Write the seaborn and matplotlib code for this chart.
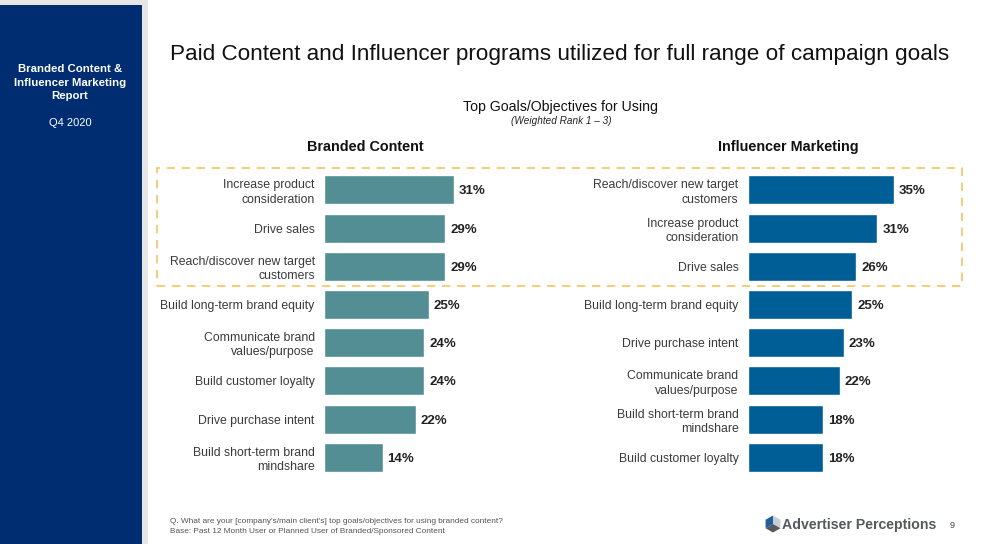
import matplotlib
matplotlib.use("Agg")
import matplotlib.pyplot as plt
from matplotlib.patches import Rectangle, Polygon
import pandas as pd
import seaborn as sns

branded_goals = ["Increase product\nconsideration", "Drive sales", "Reach/discover new target\ncustomers",
                 "Build long-term brand equity", "Communicate brand\nvalues/purpose", "Build customer loyalty",
                 "Drive purchase intent", "Build short-term brand\nmindshare"]
branded_values = [31, 29, 29, 25, 24, 24, 22, 14]

influencer_goals = ["Reach/discover new target\ncustomers", "Increase product\nconsideration", "Drive sales",
                    "Build long-term brand equity", "Drive purchase intent", "Communicate brand\nvalues/purpose",
                    "Build short-term brand\nmindshare", "Build customer loyalty"]
influencer_values = [35, 31, 26, 25, 23, 22, 18, 18]

W, H = 987, 544
sns.set_style("white")
plt.rcParams["font.family"] = ["Liberation Sans", "DejaVu Sans"]

fig = plt.figure(figsize=(W / 100, H / 100), dpi=100)


def px_rect(x, y, w, h, **kw):
    # pixel box measured from the top left of the slide
    fig.add_artist(Rectangle((x / W, 1 - (y + h) / H), w / W, h / H, transform=fig.transFigure, **kw))


def px_text(x, y, s, **kw):
    fig.text(x / W, 1 - y / H, s, **kw)


def draw_bars(left, goals, values, color):
    ax = fig.add_axes([left / W, 1 - 476.4 / H, 166.6 / W, 305.6 / H])
    df = pd.DataFrame({"goal": goals, "value": values})
    sns.barplot(data=df, x="value", y="goal", color=color, saturation=1, width=0.76, ax=ax)
    ax.set_xlim(0, 40)
    ax.set_xlabel("")
    ax.set_ylabel("")
    ax.set_xticks([])
    ax.tick_params(axis="y", length=0, pad=7, labelsize=8.8, labelcolor="#3a3a3a")
    for label in ax.get_yticklabels():
        label.set_linespacing(1.25)
    sns.despine(ax=ax, left=True, bottom=True)
    ax.patch.set_alpha(0)
    value_labels = ax.bar_label(ax.containers[0], labels=[f"{v}%" for v in values], padding=3.5,
                                fontsize=9.5, fontweight="bold", color="#222222")
    for t in value_labels:
        t.set_verticalalignment("center_baseline")
    return ax


# sidebar
px_rect(0, 0, 148, 5, color="#e6e6e6", lw=0)
px_rect(142, 0, 6, H, color="#e6e6e6", lw=0)
px_rect(0, 5, 142, H - 5, color="#002d72", lw=0)
px_text(70, 82.5, "Branded Content &\nInfluencer Marketing\nReport", color="white", fontsize=8.2, fontweight="bold",
        ha="center", va="center", linespacing=1.45)
px_text(70, 123.5, "Q4 2020", color="white", fontsize=8, ha="center", va="center")

# headings
px_text(560, 54.5, "Paid Content and Influencer programs utilized for full range of campaign goals",
        fontsize=16.2, color="#111111", ha="center", va="center")
px_text(561, 107.5, "Top Goals/Objectives for Using", fontsize=10.2, color="#111111", ha="center", va="center")
px_text(561, 121, "(Weighted Rank 1 – 3)", fontsize=7.2, style="italic", color="#222222", ha="center", va="center")
px_text(365, 147, "Branded Content", fontsize=10.4, fontweight="bold", color="#111111", ha="center", va="center")
px_text(788, 147, "Influencer Marketing", fontsize=10.4, fontweight="bold", color="#111111", ha="center", va="center")

draw_bars(324.4, branded_goals, branded_values, "#528e94")
draw_bars(748.2, influencer_goals, influencer_values, "#005e96")

# highlight around the top three goals
px_rect(157, 168, 805, 118, fill=False, edgecolor="#f0c564", lw=1.2, ls=(0, (5, 4)))

# footnote
px_text(170, 521.5, "Q. What are your [company's/main client's] top goals/objectives for using branded content?",
        fontsize=5.95, color="#555555", ha="left", va="center")
px_text(170, 531.5, "Base: Past 12 Month User or Planned User of Branded/Sponsored Content",
        fontsize=5.95, color="#555555", ha="left", va="center")

# logo mark
cx, cy, r, hw = 773, 524, 8.5, 7.4
pts = {"top": (cx, cy - r), "tr": (cx + hw, cy - r / 2), "br": (cx + hw, cy + r / 2),
       "bot": (cx, cy + r), "bl": (cx - hw, cy + r / 2), "tl": (cx - hw, cy - r / 2), "c": (cx, cy)}
for keys, col in [(("top", "c", "bl", "tl"), "#1f5f9e"), (("top", "tr", "br", "c"), "#c9ced3"),
                  (("bl", "c", "br", "bot"), "#55595e")]:
    fig.add_artist(Polygon([(pts[k][0] / W, 1 - pts[k][1] / H) for k in keys], closed=True,
                           transform=fig.transFigure, color=col, lw=0))
px_text(782, 524.5, "Advertiser Perceptions", fontsize=10.2, fontweight="bold", color="#55595e", ha="left", va="center")
px_text(952, 525, "9", fontsize=6.5, color="#444444", ha="center", va="center")

fig.savefig("out.png", dpi=100)
